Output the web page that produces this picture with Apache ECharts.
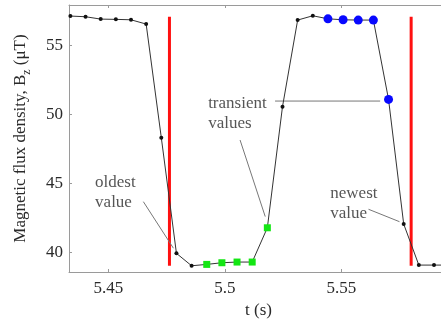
<!DOCTYPE html>
<html>
<head>
<meta charset="utf-8">
<script src="https://cdn.jsdelivr.net/npm/echarts@6/dist/echarts.min.js"></script>
<style>
  html, body { margin: 0; padding: 0; background: #fff; }
  #chart { width: 441px; height: 320px; }
</style>
</head>
<body>
<div id="chart"></div>
<script>
// sample times (s) and flux density values (uT)
const times = [5.4337, 5.4402, 5.4467, 5.4532, 5.4597, 5.4662, 5.4727, 5.4792, 5.4857,
  5.4922, 5.4987, 5.5052, 5.5117, 5.5182, 5.5247, 5.5312, 5.5377, 5.5442, 5.5507,
  5.5572, 5.5637, 5.5702, 5.5767, 5.5832, 5.5897, 5.5962]
const flux = [57.10, 57.05, 56.88, 56.86, 56.83, 56.52, 48.30, 39.93, 39.03,
  39.13, 39.25, 39.30, 39.30, 41.78, 50.54, 56.81, 57.12, 56.90, 56.83,
  56.81, 56.81, 51.07, 42.05, 39.08, 39.08, 39.08]
// which samples are highlighted
const greenIdx = [9, 10, 11, 12, 13]
const blueIdx = [17, 18, 19, 20, 21]
// window borders (red lines)
const windowT = [5.4762, 5.5799]
const windowB = [39.03, 57.05]
// tick labels
const xTicks = [5.45, 5.5, 5.55]
const yTicks = [40, 45, 50, 55]
// annotations: text anchor + leader lines
const notes = ['oldest\nvalue', 'transient\nvalues', 'newest\nvalue']
const noteT = [5.4443, 5.4928, 5.5452]
const noteB = [44.30, 50.05, 43.50]
const leaders = [
  [[5.4650, 43.67], [5.4779, 40.30]],
  [[5.5215, 50.95], [5.5666, 50.95]],
  [[5.5065, 48.13], [5.5173, 42.59]],
  [[5.5616, 43.12], [5.5749, 42.22]]
]

const font = 'Liberation Serif'
const txt = '#2a2a2a'
const axisGray = '#9a9a9a'

const chart = echarts.init(document.getElementById('chart'))

const pts = times.map((t, i) => [t, flux[i]])
const series = [
  {
    type: 'line',
    data: pts,
    symbol: 'circle',
    symbolSize: 4,
    itemStyle: { color: '#111' },
    lineStyle: { color: '#333', width: 1 },
    silent: true,
    z: 2
  },
  {
    type: 'scatter',
    data: greenIdx.map(i => pts[i]),
    symbol: 'rect',
    symbolSize: 7,
    itemStyle: { color: '#14e614', opacity: 1 },
    z: 3
  },
  {
    type: 'scatter',
    data: blueIdx.map(i => pts[i]),
    symbol: 'circle',
    symbolSize: 9,
    itemStyle: { color: '#0808ff', opacity: 1 },
    z: 3
  }
]
windowT.forEach(t => {
  series.push({
    type: 'line',
    data: [[t, windowB[0]], [t, windowB[1]]],
    symbol: 'none',
    lineStyle: { color: '#ff1010', width: 3 },
    z: 1
  })
})
leaders.forEach(seg => {
  series.push({
    type: 'line',
    data: seg,
    symbol: 'none',
    lineStyle: { color: '#777', width: 1 },
    z: 1
  })
})
series.push({
  type: 'scatter',
  data: notes.map((n, i) => ({ name: n, value: [noteT[i], noteB[i]] })),
  symbolSize: 0,
  label: {
    show: true,
    position: 'right',
    distance: 0,
    formatter: p => p.name,
    fontFamily: font,
    fontSize: 17,
    lineHeight: 20,
    color: txt
  },
  z: 4
})

const option = {
  animation: false,
  grid: {
    left: 69, right: -17, top: 5, bottom: 48,
    outerBoundsMode: 'none',
    containLabel: false
  },
  xAxis: [
    {
      type: 'value',
      min: 5.4331,
      max: 5.6,
      name: 't (s)',
      nameLocation: 'middle',
      nameGap: 26,
      nameTextStyle: { fontFamily: font, fontSize: 17, color: txt, padding: [0, 10, 0, 0] },
      axisLine: { show: true, lineStyle: { color: axisGray } },
      axisTick: { show: true, inside: true, length: 3, customValues: xTicks, lineStyle: { color: axisGray } },
      axisLabel: { customValues: xTicks, fontFamily: font, fontSize: 17, color: txt, margin: 8 },
      splitLine: { show: false }
    },
    {
      type: 'value',
      position: 'top',
      min: 5.4331,
      max: 5.6,
      axisLine: { show: true, lineStyle: { color: axisGray } },
      axisTick: { show: true, inside: true, length: 3, customValues: xTicks, lineStyle: { color: axisGray } },
      axisLabel: { show: false },
      splitLine: { show: false }
    }
  ],
  yAxis: {
    type: 'value',
    min: 38.58,
    max: 57.9,
    name: 'Magnetic flux density, B{sub|z} (μT)',
    nameLocation: 'middle',
    nameGap: 36,
    nameTextStyle: {
      fontFamily: font, fontSize: 17, color: txt,
      rich: { sub: { fontFamily: font, fontSize: 12, color: txt, padding: [12, 0, 0, 0] } }
    },
    axisLine: { show: true, lineStyle: { color: axisGray } },
    axisTick: { show: true, inside: true, length: 3, customValues: yTicks, lineStyle: { color: axisGray } },
    axisLabel: { customValues: yTicks, fontFamily: font, fontSize: 17, color: txt, margin: 6 },
    splitLine: { show: false }
  },
  series: series
}
chart.setOption(option)
</script>
</body>
</html>
